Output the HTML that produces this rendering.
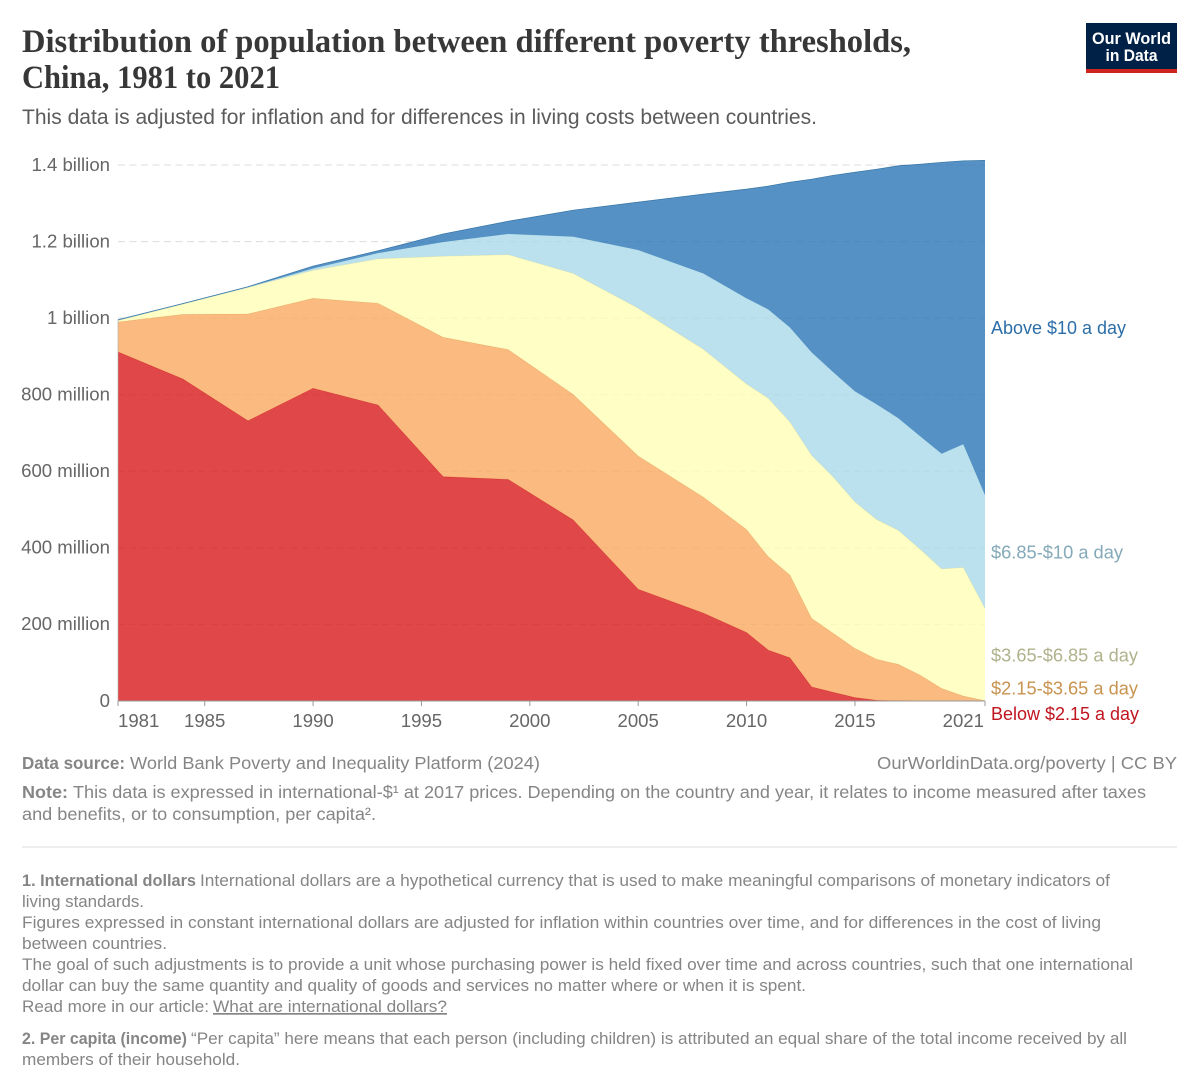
<!DOCTYPE html>
<html lang="en">
<head>
<meta charset="utf-8">
<title>Distribution of population between different poverty thresholds, China, 1981 to 2021</title>
<style>
html,body{margin:0;padding:0;background:#fff;width:1200px;height:1092px;overflow:hidden}
svg{display:block;font-family:"Liberation Sans",Arial,sans-serif}
.ft{font-size:17px;fill:#858585}
.fb{font-size:17px;fill:#858585;font-weight:700}
.sl{font-size:18px}
.tk{font-size:18.6px;fill:#666}
</style>
</head>
<body>
<svg id="root" xmlns="http://www.w3.org/2000/svg" width="1200" height="1092" viewBox="0 0 1200 1092">
  <rect x="0" y="0" width="1200" height="1092" fill="#fff"/>
  <text x="22" y="52" font-family="'Liberation Serif',serif" font-weight="700" font-size="33" fill="#373737" textLength="889" lengthAdjust="spacingAndGlyphs">Distribution of population between different poverty thresholds,</text>
  <text x="22" y="88" font-family="'Liberation Serif',serif" font-weight="700" font-size="33" fill="#373737" textLength="258" lengthAdjust="spacingAndGlyphs">China, 1981 to 2021</text>
  <text x="22" y="124" font-size="21" fill="#5b5b5b" textLength="795" lengthAdjust="spacingAndGlyphs">This data is adjusted for inflation and for differences in living costs between countries.</text>

  <g>
    <rect x="1086" y="23" width="91" height="50" fill="#002147"/>
    <rect x="1086" y="69" width="91" height="4" fill="#ce261e"/>
    <text x="1131.5" y="44" text-anchor="middle" font-size="17" font-weight="700" fill="#fff" textLength="79" lengthAdjust="spacingAndGlyphs">Our World</text>
    <text x="1131.5" y="61" text-anchor="middle" font-size="17" font-weight="700" fill="#fff" textLength="52" lengthAdjust="spacingAndGlyphs">in Data</text>
  </g>

  <g id="grid"></g>
  <g id="areas"></g>
  <g id="axes"></g>

  <g>
    <text class="sl" x="991" y="334" fill="#2c6ea8" textLength="135" lengthAdjust="spacingAndGlyphs">Above $10 a day</text>
    <text class="sl" x="991" y="558.5" fill="#84a9b8" textLength="132" lengthAdjust="spacingAndGlyphs">$6.85-$10 a day</text>
    <text class="sl" x="991" y="661.5" fill="#b0b28c" textLength="147" lengthAdjust="spacingAndGlyphs">$3.65-$6.85 a day</text>
    <text class="sl" x="991" y="694.5" fill="#c99350" textLength="147" lengthAdjust="spacingAndGlyphs">$2.15-$3.65 a day</text>
    <text class="sl" x="991" y="720" fill="#c0141f" textLength="148" lengthAdjust="spacingAndGlyphs">Below $2.15 a day</text>
  </g>

  <g>
    <text x="22" y="769" font-size="17.5" font-weight="700" fill="#858585" textLength="103" lengthAdjust="spacingAndGlyphs">Data source:</text>
    <text x="130" y="769" font-size="17.5" fill="#858585" textLength="410" lengthAdjust="spacingAndGlyphs">World Bank Poverty and Inequality Platform (2024)</text>
    <text x="877" y="769" font-size="17.5" fill="#858585" textLength="300" lengthAdjust="spacingAndGlyphs">OurWorldinData.org/poverty | CC BY</text>
    <text x="22" y="798" font-size="17.5" font-weight="700" fill="#858585" textLength="46" lengthAdjust="spacingAndGlyphs">Note:</text>
    <text x="73" y="798" font-size="17.5" fill="#858585" textLength="1073" lengthAdjust="spacingAndGlyphs">This data is expressed in international-$¹ at 2017 prices. Depending on the country and year, it relates to income measured after taxes</text>
    <text x="22" y="820" font-size="17.5" fill="#858585" textLength="354" lengthAdjust="spacingAndGlyphs">and benefits, or to consumption, per capita².</text>
    <line x1="22" y1="847" x2="1177" y2="847" stroke="#e4e4e4" stroke-width="1.2"/>
  </g>

  <g>
    <text class="fb" x="22" y="886" textLength="174" lengthAdjust="spacingAndGlyphs">1. International dollars</text>
    <text class="ft" x="200" y="886" textLength="910" lengthAdjust="spacingAndGlyphs">International dollars are a hypothetical currency that is used to make meaningful comparisons of monetary indicators of</text>
    <text class="ft" x="22" y="907" textLength="122" lengthAdjust="spacingAndGlyphs">living standards.</text>
    <text class="ft" x="22" y="928" textLength="1079" lengthAdjust="spacingAndGlyphs">Figures expressed in constant international dollars are adjusted for inflation within countries over time, and for differences in the cost of living</text>
    <text class="ft" x="22" y="949" textLength="145" lengthAdjust="spacingAndGlyphs">between countries.</text>
    <text class="ft" x="22" y="970" textLength="1111" lengthAdjust="spacingAndGlyphs">The goal of such adjustments is to provide a unit whose purchasing power is held fixed over time and across countries, such that one international</text>
    <text class="ft" x="22" y="991" textLength="784" lengthAdjust="spacingAndGlyphs">dollar can buy the same quantity and quality of goods and services no matter where or when it is spent.</text>
    <text class="ft" x="22" y="1012" textLength="187" lengthAdjust="spacingAndGlyphs">Read more in our article:</text>
    <text class="ft" x="213" y="1012" text-decoration="underline" textLength="234" lengthAdjust="spacingAndGlyphs">What are international dollars?</text>
    <text class="fb" x="22" y="1044" textLength="165" lengthAdjust="spacingAndGlyphs">2. Per capita (income)</text>
    <text class="ft" x="191" y="1044" textLength="936" lengthAdjust="spacingAndGlyphs">“Per capita” here means that each person (including children) is attributed an equal share of the total income received by all</text>
    <text class="ft" x="22" y="1065" textLength="218" lengthAdjust="spacingAndGlyphs">members of their household.</text>
  </g>
</svg>

<script>
// Chart data (population in millions)
const years = [1981,1984,1987,1990,1993,1996,1999,2002,2005,2008,2010,2011,2012,2013,2014,2015,2016,2017,2018,2019,2020,2021];
const below215 = [912,841,732,817,773,586,579,473,292,230,179,133,113,37,23,9,2,1,0.5,0,0,0];
const from215to365 = [78,169,279,235,266,364,339,328,348,303,269,244,216,179,154,128.5,107,95,67.5,33,13,1];
const from365to685 = [4,27,69,73,116,212,248,316,386,386,380,414,400,426,408,382.5,365,350,329,312,336,241];
const from685to10 = [0.5,0.5,1,5,15,37,54,96,152,198,224,232,247,269,274,289,301,293,295,301,322,296];
const above10 = [1.5,0.8,1.2,6,6,21,33,69,125,207,285,322,379,452,514,572,614,659,710,761,740,874];
const yTickValues = [0,200,400,600,800,1000,1200,1400];
const yTickLabels = ["0","200 million","400 million","600 million","800 million","1 billion","1.2 billion","1.4 billion"];
const xTickYears = [1981,1985,1990,1995,2000,2005,2010,2015,2021];

const NS = "http://www.w3.org/2000/svg";
const xScale = function (year) { return 118 + (year - 1981) * (985 - 118) / (2021 - 1981); };
const yScale = function (v) { return 701 - v * (701 - 165) / 1400; };

const gridGroup = document.getElementById("grid");
const areaGroup = document.getElementById("areas");
const axisGroup = document.getElementById("axes");

yTickValues.forEach(function (v, i) {
  if (v !== 0) {
    const line = document.createElementNS(NS, "line");
    
    
    line.setAttribute("x1", 118);
    line.setAttribute("x2", 985);
    line.setAttribute("y1", yScale(v));
    line.setAttribute("y2", yScale(v));
    line.setAttribute("stroke", "#dcdcdc");
    line.setAttribute("stroke-width", 1);
    line.setAttribute("stroke-dasharray", "7 4.5");
    gridGroup.appendChild(line);
  }
  const label = document.createElementNS(NS, "text");
  
  
  label.setAttribute("class", "tk");
  label.setAttribute("x", 110);
  label.setAttribute("y", yScale(v) + 5.8);
  label.setAttribute("text-anchor", "end");
  label.textContent = yTickLabels[i];
  axisGroup.appendChild(label);
});

const bands = [
  { name: "area-below-2-15", values: below215, fill: "#d8191a", stroke: "#c4161c", strokeOpacity: 0.7 },
  { name: "area-2-15-to-3-65", values: from215to365, fill: "#faaa60", stroke: "#d99a5a", strokeOpacity: 0.7 },
  { name: "area-3-65-to-6-85", values: from365to685, fill: "#ffffb6", stroke: "#dedca0", strokeOpacity: 0.7 },
  { name: "area-6-85-to-10", values: from685to10, fill: "#a9d9e8", stroke: "#9fcbdc", strokeOpacity: 0.7 },
  { name: "area-above-10", values: above10, fill: "#2a75b7", stroke: "#2f6f9f", strokeOpacity: 0.9 }
];

const baseline = years.map(function () { return 0; });
bands.forEach(function (band) {
  const lower = baseline.slice();
  const upper = band.values.map(function (v, i) { return lower[i] + v; });
  let d = "";
  years.forEach(function (yr, i) {
    d += (i === 0 ? "M" : "L") + xScale(yr).toFixed(2) + " " + yScale(upper[i]).toFixed(2);
  });
  for (let i = years.length - 1; i >= 0; i--) {
    d += "L" + xScale(years[i]).toFixed(2) + " " + yScale(lower[i]).toFixed(2);
  }
  d += "Z";
  const area = document.createElementNS(NS, "path");
  
  
  area.setAttribute("d", d);
  area.setAttribute("fill", band.fill);
  area.setAttribute("fill-opacity", 0.8);
  areaGroup.appendChild(area);

  let top = "";
  years.forEach(function (yr, i) {
    top += (i === 0 ? "M" : "L") + xScale(yr).toFixed(2) + " " + yScale(upper[i]).toFixed(2);
  });
  const edge = document.createElementNS(NS, "path");
  
  
  edge.setAttribute("d", top);
  edge.setAttribute("fill", "none");
  edge.setAttribute("stroke", band.stroke);
  edge.setAttribute("stroke-width", 0.7);
  edge.setAttribute("stroke-opacity", band.strokeOpacity);
  areaGroup.appendChild(edge);

  upper.forEach(function (v, i) { baseline[i] = v; });
});

const axisLine = document.createElementNS(NS, "line");


axisLine.setAttribute("x1", 118);
axisLine.setAttribute("x2", 985);
axisLine.setAttribute("y1", 701);
axisLine.setAttribute("y2", 701);
axisLine.setAttribute("stroke", "#999");
axisLine.setAttribute("stroke-width", 1);
axisGroup.appendChild(axisLine);

const leftEdge = document.createElementNS(NS, "line");


leftEdge.setAttribute("x1", 118);
leftEdge.setAttribute("x2", 118);
leftEdge.setAttribute("y1", yScale(baseline[0]));
leftEdge.setAttribute("y2", 701);
leftEdge.setAttribute("stroke", "#aaa");
leftEdge.setAttribute("stroke-width", 0.6);
axisGroup.appendChild(leftEdge);

xTickYears.forEach(function (yr, i) {
  const tick = document.createElementNS(NS, "line");
  
  
  tick.setAttribute("x1", xScale(yr));
  tick.setAttribute("x2", xScale(yr));
  tick.setAttribute("y1", 701);
  tick.setAttribute("y2", 706);
  tick.setAttribute("stroke", "#999");
  tick.setAttribute("stroke-width", 1);
  axisGroup.appendChild(tick);

  const label = document.createElementNS(NS, "text");
  
  
  label.setAttribute("class", "tk");
  label.setAttribute("y", 727);
  const isFirst = i === 0;
  const isLast = i === xTickYears.length - 1;
  label.setAttribute("x", xScale(yr) + (isLast ? -1 : 0));
  label.setAttribute("text-anchor", isFirst ? "start" : (isLast ? "end" : "middle"));
  label.textContent = String(yr);
  axisGroup.appendChild(label);
});
</script>
</body>
</html>
